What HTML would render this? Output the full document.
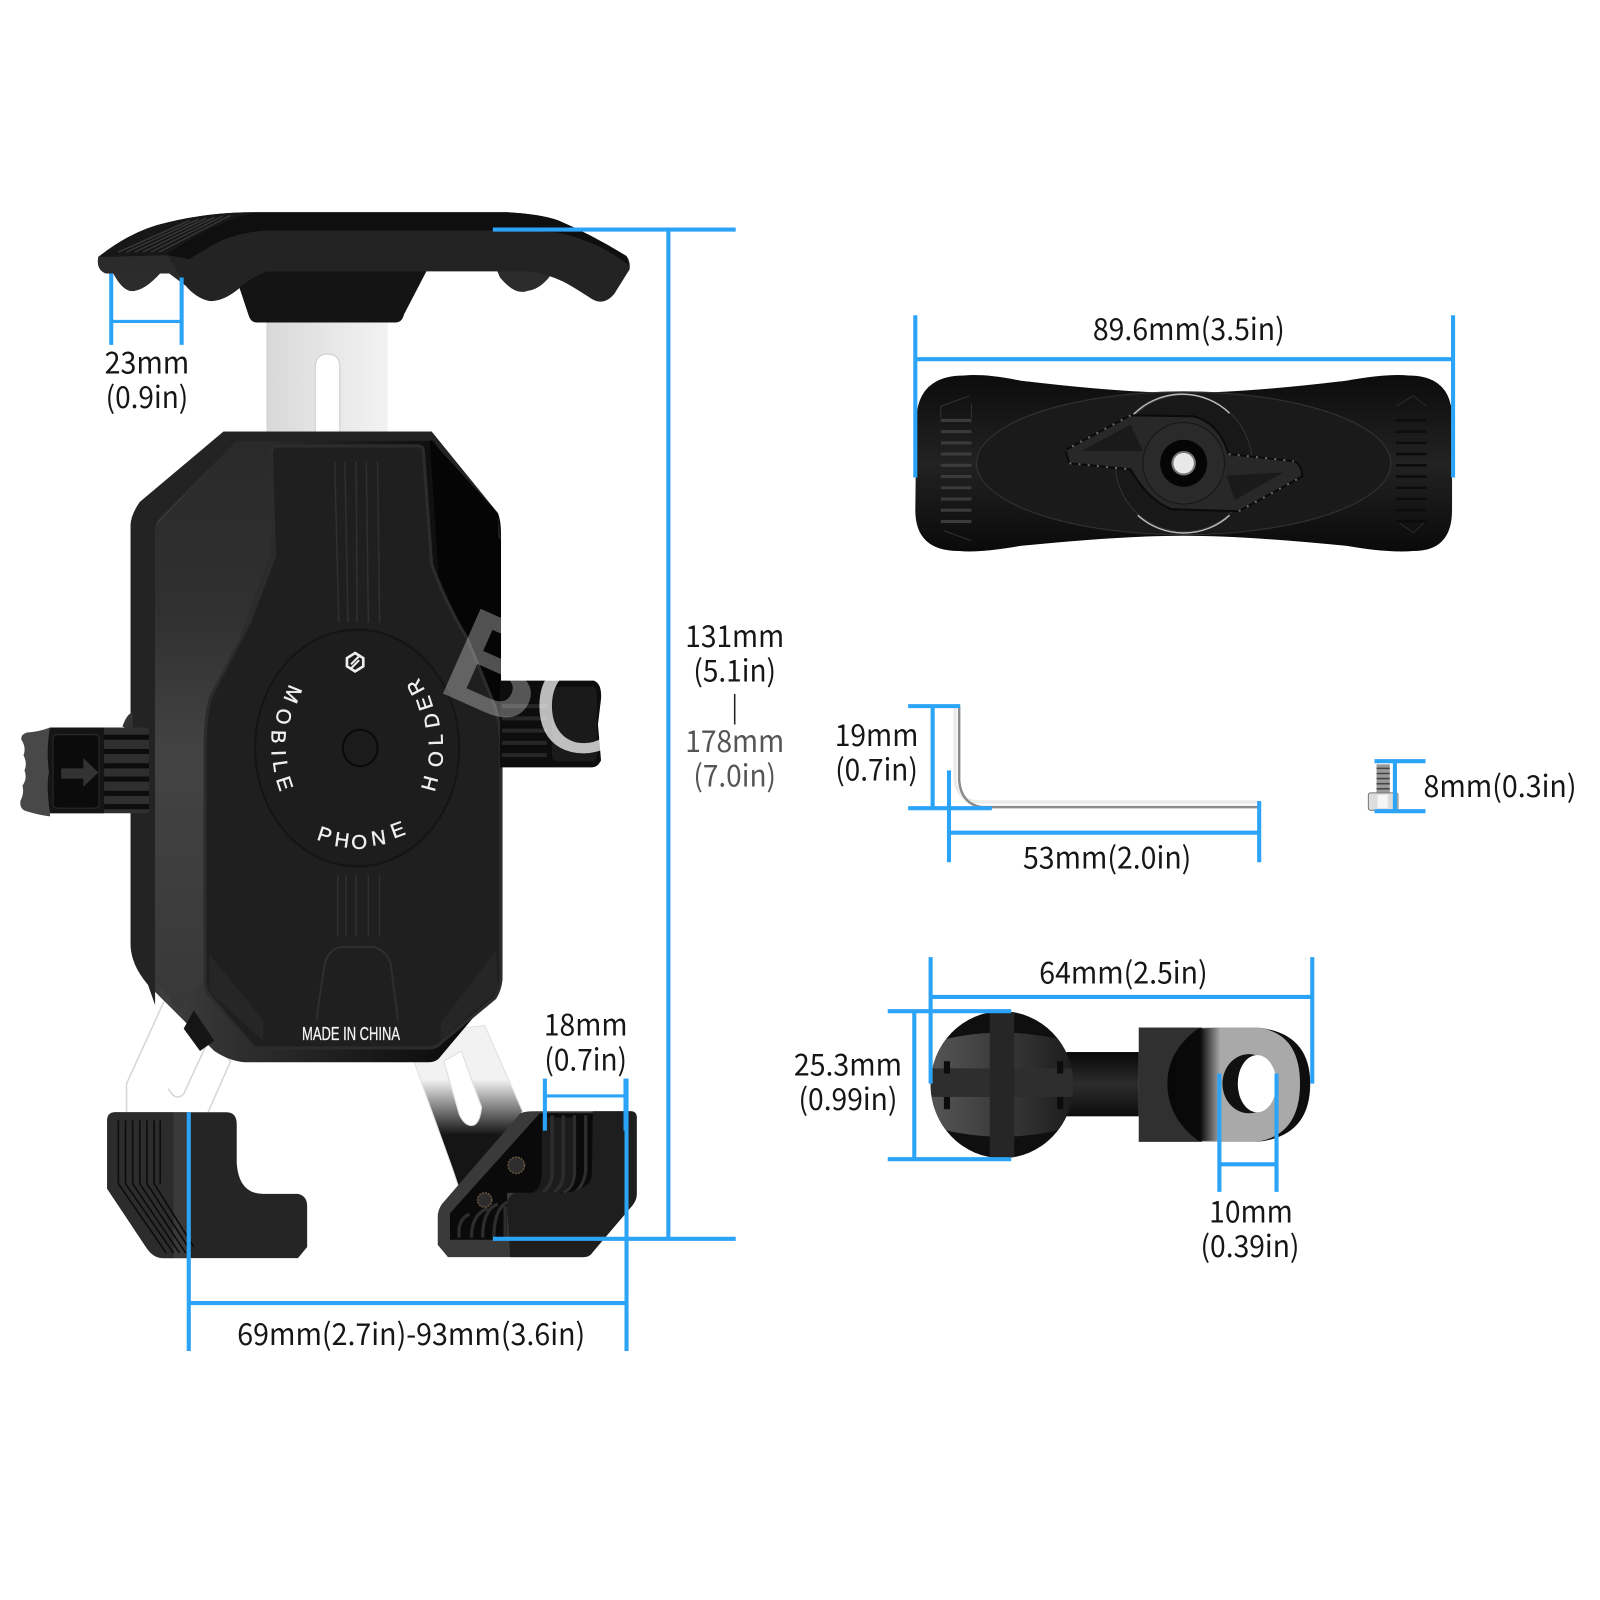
<!DOCTYPE html>
<html><head><meta charset="utf-8"><title>Phone holder dimensions</title>
<style>html,body{margin:0;padding:0;background:#fff}svg{display:block}
.t{font-family:"Noto Sans CJK SC","Liberation Sans",sans-serif;font-size:29.5px;font-weight:400;fill:#161616;text-anchor:middle}
.g{font-family:"Liberation Sans",sans-serif;font-size:20px;fill:#f0f0f0;stroke:#f0f0f0;stroke-width:.4;text-anchor:middle;dominant-baseline:central}
.b{stroke:#2ba3f6;stroke-width:4;fill:none}
</style></head><body>
<svg width="1600" height="1600" viewBox="0 0 1568 1568" xmlns="http://www.w3.org/2000/svg">
<defs>
<linearGradient id="metal" x1="0" x2="1" y1="0" y2="0"><stop offset="0" stop-color="#d8d8d8"/><stop offset=".5" stop-color="#e6e6e6"/><stop offset="1" stop-color="#f2f2f2"/></linearGradient>
<linearGradient id="body" x1="0" x2="1" y1="0" y2="0"><stop offset="0" stop-color="#333"/><stop offset=".1" stop-color="#3e3e3e"/><stop offset=".22" stop-color="#333"/><stop offset=".6" stop-color="#1c1c1c"/><stop offset="1" stop-color="#050505"/></linearGradient>
<linearGradient id="side" x1="0" x2="0" y1="0" y2="1"><stop offset="0" stop-color="#2a2a2a"/><stop offset=".3" stop-color="#303030"/><stop offset=".55" stop-color="#434343"/><stop offset="1" stop-color="#383838"/></linearGradient>
<linearGradient id="arm" gradientUnits="userSpaceOnUse" x1="0" x2="0" y1="1058" y2="1112"><stop offset="0" stop-color="#f2f2f2"/><stop offset="1" stop-color="#151515"/></linearGradient>
<linearGradient id="ball" x1="0" x2="1" y1="0" y2="0"><stop offset="0" stop-color="#555"/><stop offset=".5" stop-color="#3a3a3a"/><stop offset="1" stop-color="#1c1c1c"/></linearGradient>
<linearGradient id="plate" x1="0" x2="0" y1="0" y2="1"><stop offset="0" stop-color="#0c0c0c"/><stop offset=".5" stop-color="#222"/><stop offset="1" stop-color="#0a0a0a"/></linearGradient>
<linearGradient id="block" x1="0" x2="0" y1="0" y2="1"><stop offset="0" stop-color="#080808"/><stop offset=".5" stop-color="#2c2c2c"/><stop offset="1" stop-color="#0c0c0c"/></linearGradient>
<linearGradient id="cres" x1="0" x2="1" y1="0" y2="0"><stop offset="0" stop-color="#080808"/><stop offset=".62" stop-color="#0a0a0a"/><stop offset="1" stop-color="#a9a9a9"/></linearGradient>
<clipPath id="ballclip"><ellipse cx="982" cy="1063" rx="70" ry="72"/></clipPath>
</defs>

<!-- Top clamp -->
<rect x="261" y="314" width="119" height="114" fill="url(#metal)"/>
<path d="M309,425V360Q309,347 321,347Q333,347 333,360V425Z" fill="#fff" stroke="#ccc"/>
<path d="M484,258L490,272Q505,290 517,285Q528,284 538,272L545,258Z" fill="#2c2c2c"/>
<path d="M108,262Q120,288 132,285Q145,283 162,262Z" fill="#2c2c2c"/>
<path d="M234,280L244,310Q246,316 252,316H388Q394,316 396,308L422,258H236Z" fill="#141414"/>
<path d="M96,254Q130,225 164,218Q205,208 249,208H497Q530,210 547,216Q580,230 614,251Q618,256 617,264L602,288Q592,300 580,293Q560,280 552,276Q535,268 517,266H262Q245,272 234,283Q218,296 205,295Q192,292 182,280L166,268H104Q95,265 96,254Z" fill="#232323"/>
<path d="M249,208H497Q530,210 547,216Q580,230 614,251L616,260Q590,238 547,228Q520,226 478,226H260Q230,228 209,240L185,254L164,250Q180,225 249,208Z" fill="#0f0f0f"/>
<path d="M96,252L164,250L182,280L166,268H104Q95,265 96,254Z" fill="#2b2b2b"/>
<path d="M96,252Q130,225 164,218Q205,208 249,208Q200,222 164,250Z" fill="#171717"/>
<g stroke="#3a3a3a" stroke-width="1.3"><path d="M116,247L186,216M124,247L194,215M132,247L202,214M140,247L210,213M148,247L218,212M156,247L226,211"/></g>

<!-- Lower arms behind body -->
<path d="M165,972L124,1062V1092H203L226,1040L186,1000Z" fill="#fff" stroke="#d6d6d6" stroke-width="1.5"/>
<path d="M165,1067Q172,1080 180,1072L205,1018" fill="#fff" stroke="#d6d6d6" stroke-width="1.5"/>
<path d="M402,1030L444,1147L450,1165L500,1110L512,1089L475,1005L430,1010Z" fill="url(#arm)" stroke="#e0e0e0" stroke-width="1"/>
<path d="M452,1030L472,1085Q470,1103 462,1103Q455,1103 450,1092L435,1040Z" fill="#fff" stroke="#ddd"/>

<!-- Body -->
<path d="M219,423H423L488,503Q491,510 491,525V965L432,1035Q428,1041 420,1041H240Q225,1040 210,1030L145,965Q128,945 128,925V515Q128,505 137,492Z" fill="url(#body)"/>
<path d="M219,423H423L488,503L491,530L425,432H232L155,510Q152,515 152,522V985L145,965Q128,945 128,925V515Q128,505 137,492Z" fill="#232323"/>
<path d="M152,522Q152,515 157,510L232,432H266V540L200,720V960L175,990L152,960Z" fill="url(#side)"/>
<path d="M421,430L488,503L491,700L430,565Z" fill="#050505"/>
<path d="M266,443Q266,437 273,437H409Q415,437 415,443L423,553Q436,590 458,626L485,692Q491,710 491,740V960Q490,970 485,978L432,1022Q428,1027 420,1027H252Q248,1027 245,1022L205,975Q201,970 201,960V730Q201,705 206,684L244,611L269,545Z" fill="#1f1f1f" stroke="#2c2c2c" stroke-width="3"/>
<path d="M205,935L258,1000V1020L205,972ZM486,932L432,1002V1020L488,970Z" fill="#262626"/>
<path d="M310,1000L318,945Q322,930 335,928H365Q378,930 383,945L390,1000" fill="none" stroke="#2e2e2e" stroke-width="2"/>
<g stroke="#303030" stroke-width="1.5" fill="none">
<path d="M328,452L332,610M338,452L341,610M349,452L350,610M359,452L361,610M370,452L372,610"/>
<path d="M331,858V918M339,858V918M349,858V918M361,858V918M372,858V918"/>
</g>
<path d="M190,990L210,1020L196,1030L180,1008Z" fill="#151515"/>
<ellipse cx="350" cy="733" rx="100" ry="116" fill="#1d1d1d" stroke="#141414" stroke-width="2"/>
<ellipse cx="353" cy="733" rx="17" ry="18" fill="#1b1b1b" stroke="#0a0a0a" stroke-width="2"/>
<path d="M348,640L356,645V653L348,658L340,653V645Z" fill="none" stroke="#eee" stroke-width="2.6"/>
<path d="M352,643L344,651M352,647L344,655" stroke="#eee" stroke-width="2"/>
<text class="g" transform="translate(286,680) rotate(112)">M</text>
<text class="g" transform="translate(277,702) rotate(100)">O</text>
<text class="g" transform="translate(272,722) rotate(92)">B</text>
<text class="g" transform="translate(272,738) rotate(88)">I</text>
<text class="g" transform="translate(274,751) rotate(82)">L</text>
<text class="g" transform="translate(278,768) rotate(72)">E</text>
<text class="g" transform="translate(318,819) rotate(18)">P</text>
<text class="g" transform="translate(335,824) rotate(8)">H</text>
<text class="g" transform="translate(352,826)">O</text>
<text class="g" transform="translate(371,822) rotate(-8)">N</text>
<text class="g" transform="translate(390,814) rotate(-20)">E</text>
<text class="g" transform="translate(422,768) rotate(-75)">H</text>
<text class="g" transform="translate(428,744) rotate(-85)">O</text>
<text class="g" transform="translate(428,725) rotate(-92)">L</text>
<text class="g" transform="translate(424,706) rotate(-100)">D</text>
<text class="g" transform="translate(417,689) rotate(-108)">E</text>
<text class="g" transform="translate(408,673) rotate(-118)">R</text>
<text x="344" y="1019" font-family="Liberation Sans,sans-serif" font-size="18" fill="#f2f2f2" stroke="#f2f2f2" stroke-width=".3" text-anchor="middle" textLength="96" lengthAdjust="spacingAndGlyphs">MADE IN CHINA</text>

<!-- Left knob -->
<path d="M120,712Q124,700 130,698V716Z" fill="#333"/>
<path d="M49,713H143Q146,713 146,716V794Q146,797 143,797H49Z" fill="#2f2f2f"/>
<path d="M26,718Q39,717 49,713V800Q39,799 26,795Q19,793 20,785Q24,777 22,770Q27,763 24,755Q27,748 23,740Q26,733 21,725Q20,720 26,718Z" fill="#484848"/>
<path d="M49,713H102V797H49Q45,770 48,757Q45,735 49,713Z" fill="#151515"/>
<rect x="52" y="720" width="45" height="72" rx="4" fill="#0b0b0b" stroke="#2a2a2a"/>
<g fill="#0c0c0c"><rect x="102" y="720" width="44" height="5"/><rect x="102" y="734" width="44" height="5"/><rect x="102" y="748" width="44" height="5"/><rect x="102" y="761" width="44" height="5"/><rect x="102" y="775" width="44" height="5"/><rect x="102" y="788" width="44" height="5"/></g>
<path d="M60,753H81.7V743L96.4,757L81.7,771V763H60Z" fill="#333"/>

<!-- Right knob -->
<path d="M490,667H582Q590,670 589,685L586,710L589,745Q586,752 580,752H490Z" fill="#0d0d0d"/>
<g fill="#262626"><rect x="492" y="690" width="44" height="4"/><rect x="492" y="702" width="44" height="4"/><rect x="492" y="714" width="44" height="4"/><rect x="492" y="726" width="44" height="4"/><rect x="492" y="738" width="44" height="4"/></g>
<rect x="541" y="673" width="44" height="73" rx="5" fill="#1a1a1a"/>

<!-- Watermark -->
<text transform="translate(426,676) rotate(24)" font-family="Liberation Sans,sans-serif" font-size="132" font-weight="700" fill="#fff" opacity=".3">B</text>
<text x="522" y="737" font-family="Liberation Sans,sans-serif" font-size="130" fill="#fff" opacity=".72">C</text>

<!-- Left foot -->
<path d="M113,1090H222Q232,1090 232,1102V1140Q234,1170 258,1170H292Q301,1172 301,1182V1222L292,1233H160Q150,1233 143,1222L105,1165V1098Q105,1090 113,1090Z" fill="#252525"/>
<path d="M113,1090H170V1233H160Q150,1233 143,1222L105,1165V1098Q105,1090 113,1090Z" fill="#2c2c2c"/>
<path d="M170,1090H185V1233H170Z" fill="#3a3a3a"/>
<g stroke="#0c0c0c" stroke-width="1.6" fill="none"><path d="M116,1098V1160L163,1228M123,1098V1160L170,1228M130,1098V1160L176,1228M137,1098V1160L182,1228M144,1098V1160L187,1226M151,1098V1160L190,1222M157,1098V1160"/></g>

<!-- Right foot -->
<path d="M510,1091Q515,1089 523,1089H618Q624,1089 624,1095V1170Q624,1176 620,1181L581,1227Q578,1232 572,1232H439L429,1220V1192Q429,1186 433,1180Z" fill="#3a3a3a"/>
<path d="M529,1091H582V1169H497L497,1215H441V1189Z" fill="#0a0a0a"/>
<path d="M531,1095V1150Q530,1165 522,1169H550Q562,1160 562,1145V1095Z" fill="#1c1c1c"/>
<g fill="none" stroke="#2d2d2d" stroke-width="3.2"><path d="M541,1093V1150Q541,1162 532,1168M552,1093V1150Q552,1162 543,1168M563,1093V1150Q562,1164 552,1169M574,1093V1148Q572,1162 563,1169"/>
<path d="M450,1213Q448,1195 460,1190M462,1213Q462,1190 478,1184M473,1213Q473,1185 488,1180M484,1213Q484,1185 497,1178M495,1213V1182"/></g>
<path d="M581,1089H618Q624,1089 624,1095V1170Q624,1176 620,1181L581,1227Q578,1232 572,1232H500L497,1180Q498,1170 506,1169H555Q580,1165 580,1150Z" fill="#1e1e1e"/>
<circle cx="506" cy="1142" r="8" fill="#2d2d2d" stroke="#63543c" stroke-width="1.5" stroke-dasharray="2 1"/>
<circle cx="475" cy="1176" r="7" fill="#2d2d2d" stroke="#63543c" stroke-width="1.5" stroke-dasharray="2 1"/>

<!-- Base plate -->
<path d="M898,410Q900,368 945,368Q965,366 1000,373Q1100,385 1160,385Q1220,385 1320,373Q1360,366 1380,368Q1423,368 1423,410V500Q1423,540 1385,540Q1360,542 1320,535Q1220,525 1160,525Q1100,525 1000,535Q960,542 940,540Q897,540 897,500Z" fill="url(#plate)"/>
<ellipse cx="1160" cy="454" rx="203" ry="70" fill="#1a1a1a" stroke="#303030" stroke-width="1.2"/>
<circle cx="1160" cy="454" r="67" fill="#181818" stroke="#333" stroke-width="1"/>
<path d="M1110,407A67,67 0 0 1 1205,405M1115,505A67,67 0 0 0 1205,505" fill="none" stroke="#bbb" stroke-width="1.4"/>
<path d="M1044,441L1108,407L1170,408Q1195,415 1204,445L1268,452Q1276,455 1276,467L1214,501L1148,499Q1125,490 1108,460L1048,454Z" fill="#282828" stroke="#0b0b0b" stroke-width="2"/>
<path d="M1060,442L1108,416L1120,442ZM1258,463L1210,490L1202,466Z" fill="#1a1a1a"/>
<path d="M1048,454L1108,460M1108,407L1044,441M1204,445L1268,452M1214,501L1276,467" stroke="#666" stroke-width="2" stroke-dasharray="2 7"/>
<circle cx="1160" cy="454" r="40" fill="#2a2a2a" stroke="#161616"/>
<circle cx="1160" cy="454" r="23" fill="#050505"/>
<circle cx="1160" cy="454" r="11" fill="#e8e8e8" stroke="#777" stroke-width="2"/>
<path d="M922,398L950,388M922,398V410M952,396V410M925,520L952,530" fill="none" stroke="#333"/>
<path d="M1368,398L1385,388L1398,398M1368,510L1385,522L1398,510" fill="none" stroke="#2a2a2a"/>
<g stroke="#3b3b3b" stroke-width="3"><path d="M922,412H952M922,423H952M922,434H952M922,445H952M922,456H952M922,467H952M922,478H952M922,489H952M922,500H952M922,511H952"/></g>
<g stroke="#0c0c0c" stroke-width="2.5"><path d="M1368,412H1398M1368,423H1398M1368,434H1398M1368,445H1398M1368,456H1398M1368,467H1398M1368,478H1398M1368,489H1398M1368,500H1398M1368,511H1398"/></g>

<!-- Hex key -->
<path d="M936,692V765Q939,784 958,786H1233" fill="none" stroke="#ececec" stroke-width="3.5"/>
<path d="M940,692V765Q942,788 962,791H1233" fill="none" stroke="#8c8c8c" stroke-width="2.4"/>

<!-- Screw -->
<rect x="1349" y="749" width="13" height="28" fill="#999"/>
<g stroke="#444" stroke-width="1.5"><path d="M1349,753H1362M1349,758H1362M1349,763H1362M1349,768H1362M1349,773H1362"/></g>
<rect x="1341" y="777" width="29" height="17" rx="2" fill="#ddd" stroke="#777"/>
<rect x="1350" y="779" width="10" height="13" fill="#f6f6f6"/>

<!-- Ball mount -->
<rect x="1045" y="1031" width="72" height="63" fill="url(#block)"/>
<path d="M1232,1007Q1284,1012 1284,1062Q1284,1114 1232,1119Z" fill="#0e0e0e"/>
<path d="M1116,1007H1232Q1274,1012 1274,1062Q1274,1112 1232,1119H1116Z" fill="#a9a9a9"/>
<rect x="1116" y="1007" width="62" height="112" fill="#303030"/>
<path d="M1174,1008Q1144,1030 1144,1062Q1144,1095 1174,1118H1196V1007Z" fill="url(#cres)"/>
<ellipse cx="1224" cy="1062" rx="26" ry="29" fill="#111"/>
<ellipse cx="1232" cy="1062" rx="19" ry="28" fill="#fff"/>
<ellipse cx="982" cy="1063" rx="70" ry="72" fill="#0f0f0f"/>
<g clip-path="url(#ballclip)">
<path d="M912,1022Q982,1002 1052,1022V1104Q982,1124 912,1104Z" fill="url(#ball)"/>
<rect x="912" y="1047" width="140" height="28" fill="#2e2e2e"/>
<rect x="970" y="990" width="24" height="146" fill="#262626"/>
<rect x="925" y="1040" width="6" height="12" fill="#0c0c0c"/><rect x="925" y="1075" width="6" height="12" fill="#0c0c0c"/>
<rect x="1036" y="1040" width="6" height="12" fill="#0c0c0c"/><rect x="1036" y="1075" width="6" height="12" fill="#0c0c0c"/>
</g>

<!-- Dimension lines -->
<g class="b">
<path d="M483,225H721M483,1214H721M655,225V1214"/>
<path d="M109,268V338M178,272V338"/><path d="M109,315H178" stroke-width="3"/>
<path d="M534,1057V1108M613,1057V1108"/><path d="M534,1074H613" stroke-width="3"/>
<path d="M185,1090V1324M614,1057V1324M185,1277H614"/>
<path d="M897,309V468M1424,309V468M897,352H1424"/>
<path d="M890,692H941M890,792H972M914,692V792"/>
<path d="M930,755V845M1234,785V845M930,816H1234"/>
<path d="M1347,746H1397M1347,795H1397M1367,746V795"/>
<path d="M912,938V1062M1286,938V1062M912,977H1286"/>
<path d="M870,991H991M870,1136H991M896,991V1136"/>
<path d="M1195,1052V1168M1251,1052V1168M1195,1141H1251"/>
</g>
<path d="M720,680V710" stroke="#222" stroke-width="1.5"/>

<!-- Labels -->
<text class="t" x="144" y="366" textLength="83" lengthAdjust="spacingAndGlyphs">23mm</text>
<text class="t" x="144" y="400" textLength="81" lengthAdjust="spacingAndGlyphs">(0.9in)</text>
<text class="t" x="720" y="634" textLength="97" lengthAdjust="spacingAndGlyphs">131mm</text>
<text class="t" x="720" y="668" textLength="81" lengthAdjust="spacingAndGlyphs">(5.1in)</text>
<text class="t" x="720" y="737" textLength="97" lengthAdjust="spacingAndGlyphs" style="fill:#555">178mm</text>
<text class="t" x="720" y="771" textLength="81" lengthAdjust="spacingAndGlyphs" style="fill:#555">(7.0in)</text>
<text class="t" x="574" y="1015" textLength="82" lengthAdjust="spacingAndGlyphs">18mm</text>
<text class="t" x="574" y="1049" textLength="81" lengthAdjust="spacingAndGlyphs">(0.7in)</text>
<text class="t" x="403" y="1318" textLength="341" lengthAdjust="spacingAndGlyphs">69mm(2.7in)-93mm(3.6in)</text>
<text class="t" x="1165" y="333" textLength="188" lengthAdjust="spacingAndGlyphs">89.6mm(3.5in)</text>
<text class="t" x="859" y="731" textLength="82" lengthAdjust="spacingAndGlyphs">19mm</text>
<text class="t" x="859" y="765" textLength="81" lengthAdjust="spacingAndGlyphs">(0.7in)</text>
<text class="t" x="1085" y="851" textLength="165" lengthAdjust="spacingAndGlyphs">53mm(2.0in)</text>
<text class="t" x="1470" y="781" textLength="150" lengthAdjust="spacingAndGlyphs">8mm(0.3in)</text>
<text class="t" x="1101" y="964" textLength="165" lengthAdjust="spacingAndGlyphs">64mm(2.5in)</text>
<text class="t" x="831" y="1054" textLength="106" lengthAdjust="spacingAndGlyphs">25.3mm</text>
<text class="t" x="831" y="1088" textLength="97" lengthAdjust="spacingAndGlyphs">(0.99in)</text>
<text class="t" x="1226" y="1198" textLength="82" lengthAdjust="spacingAndGlyphs">10mm</text>
<text class="t" x="1225" y="1232" textLength="97" lengthAdjust="spacingAndGlyphs">(0.39in)</text>
</svg>
</body></html>
